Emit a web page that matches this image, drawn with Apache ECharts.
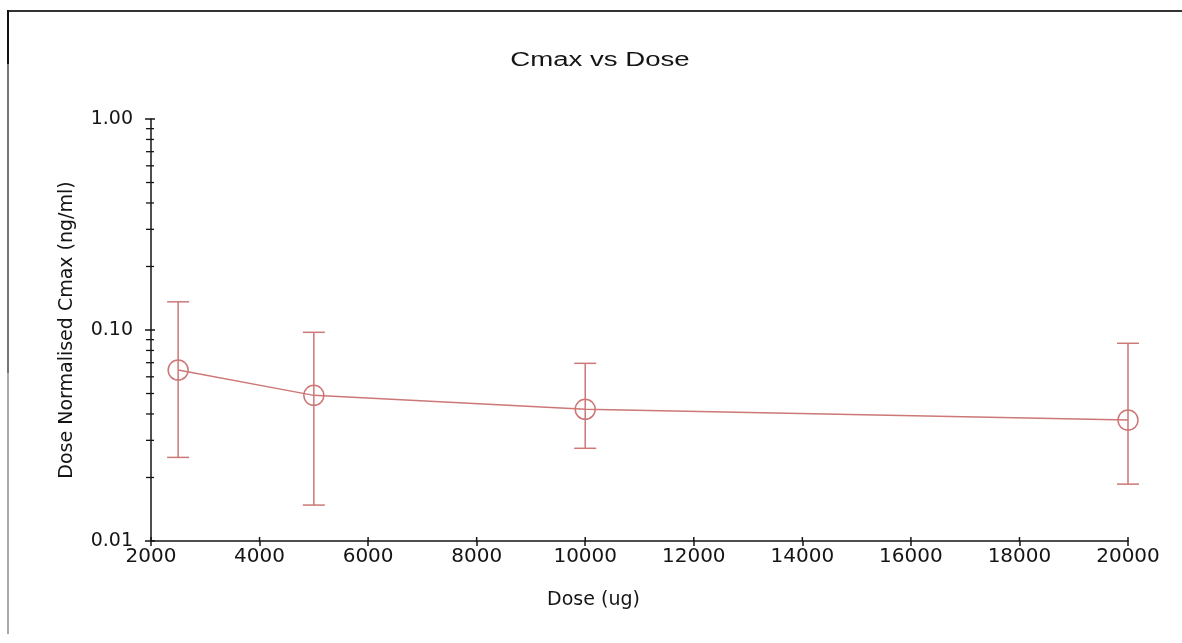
<!DOCTYPE html>
<html>
<head>
<meta charset="utf-8">
<script src="https://cdn.jsdelivr.net/npm/echarts@6/dist/echarts.min.js"></script>
<style>
html,body{margin:0;padding:0;background:#fff;}
#chart{width:1182px;height:643px;}
</style>
</head>
<body>
<div id="chart"></div>
<script>
var doses = [2500, 5000, 10000, 20000];
var cmaxMean = [0.0646, 0.0490, 0.0421, 0.0374];
var cmaxLow = [0.0249, 0.0148, 0.0275, 0.0186];
var cmaxHigh = [0.136, 0.0975, 0.0695, 0.0865];
var yMinorTicks = [0.02,0.03,0.04,0.05,0.06,0.07,0.08,0.09,0.2,0.3,0.4,0.5,0.6,0.7,0.8,0.9];
var yMajorTicks = [0.01, 0.1, 1];
var xTicks = [2000,4000,6000,8000,10000,12000,14000,16000,18000,20000];
var titleText = 'Cmax vs Dose';
var xName = 'Dose (ug)';
var yName = 'Dose Normalised Cmax (ng/ml)';

var color = '#cd7777';
var font = 'DejaVu Sans';
var ink = '#151515';

var lineData = doses.map(function(d, i){ return [d, cmaxMean[i]]; });
var errData = doses.map(function(d, i){ return [d, cmaxLow[i], cmaxHigh[i]]; });

var chart = echarts.init(document.getElementById('chart'));
chart.setOption({
  animation: false,
  backgroundColor: '#ffffff',
  graphic: [
    {type:'line', shape:{x1:8, y1:11, x2:1182, y2:11}, style:{stroke:'#333', lineWidth:2}},
    {type:'line', shape:{x1:8, y1:10, x2:8, y2:64}, style:{stroke:'#111', lineWidth:2}},
    {type:'line', shape:{x1:8, y1:64, x2:8, y2:373}, style:{stroke:'#777', lineWidth:2}},
    {type:'line', shape:{x1:8, y1:373, x2:8, y2:634}, style:{stroke:'#aaa', lineWidth:2}},
    {type:'text', x:600, y:60, scaleX:1.38, style:{text:titleText, fontFamily:'Liberation Sans', fontSize:20, fill:ink, textAlign:'center', textVerticalAlign:'middle'}}
  ],
  grid: {left:151, top:119, right:54, bottom:102},
  xAxis: {
    type:'value', min:2000, max:20000, interval:2000,
    name: xName, nameLocation:'middle', nameGap:50,
    nameTextStyle:{fontFamily:font, fontSize:19, color:ink, padding:[0,92,0,0]},
    axisLine:{show:true, lineStyle:{color:ink, width:1.5}},
    axisTick:{show:true, length:5, lineStyle:{color:ink, width:1.5}},
    axisLabel:{fontFamily:font, fontSize:20, color:ink, margin:6,
      formatter:function(v){ return String(v); }},
    splitLine:{show:false}
  },
  yAxis: {
    type:'log', logBase:10, min:0.01, max:1,
    name: yName, nameLocation:'middle', nameGap:74,
    nameTextStyle:{fontFamily:font, fontSize:19, color:ink},
    axisLine:{show:true, lineStyle:{color:ink, width:1.5}},
    axisTick:{show:true, length:6, lineStyle:{color:ink, width:1.5}},
    axisLabel:{fontFamily:font, fontSize:19, color:ink, margin:18,
      formatter:function(v){ return Number(v).toFixed(2); }},
    splitLine:{show:false}
  },
  series: [
    {
      type:'custom', name:'yMinorTicks', silent:true, z:3,
      data: yMinorTicks.map(function(v){ return [2000, v]; }),
      renderItem: function(params, api){
        var p = api.coord([api.value(0), api.value(1)]);
        return {type:'line', shape:{x1:p[0]-5, y1:p[1], x2:p[0]+3, y2:p[1]}, style:{stroke:ink, lineWidth:1.3}};
      }
    },
    {
      type:'custom', name:'yMajorTicksInner', silent:true, z:3,
      data: yMajorTicks.map(function(v){ return [2000, v]; }),
      renderItem: function(params, api){
        var p = api.coord([api.value(0), api.value(1)]);
        return {type:'line', shape:{x1:p[0], y1:p[1], x2:p[0]+4, y2:p[1]}, style:{stroke:ink, lineWidth:1.5}};
      }
    },
    {
      type:'custom', name:'xTicksInner', silent:true, z:3,
      data: xTicks.map(function(v){ return [v, 0.01]; }),
      renderItem: function(params, api){
        var p = api.coord([api.value(0), api.value(1)]);
        return {type:'line', shape:{x1:p[0], y1:p[1], x2:p[0], y2:p[1]-4}, style:{stroke:ink, lineWidth:1.5}};
      }
    },
    {
      type:'line', name:'Cmax', data: lineData,
      symbol:'circle', symbolSize:20,
      lineStyle:{color:color, width:1.5},
      itemStyle:{color:'rgba(0,0,0,0)', borderColor:color, borderWidth:1.5},
      z:4
    },
    {
      type:'custom', name:'errors', z:5,
      data: errData,
      renderItem: function(params, api){
        var x = api.value(0);
        var lo = api.coord([x, api.value(1)]);
        var hi = api.coord([x, api.value(2)]);
        var w = 11;
        var st = {stroke:color, lineWidth:1.5, fill:null};
        return {type:'group', children:[
          {type:'line', shape:{x1:lo[0], y1:lo[1], x2:hi[0], y2:hi[1]}, style:st},
          {type:'line', shape:{x1:lo[0]-w, y1:lo[1], x2:lo[0]+w, y2:lo[1]}, style:st},
          {type:'line', shape:{x1:hi[0]-w, y1:hi[1], x2:hi[0]+w, y2:hi[1]}, style:st}
        ]};
      }
    }
  ]
});
</script>
</body>
</html>
